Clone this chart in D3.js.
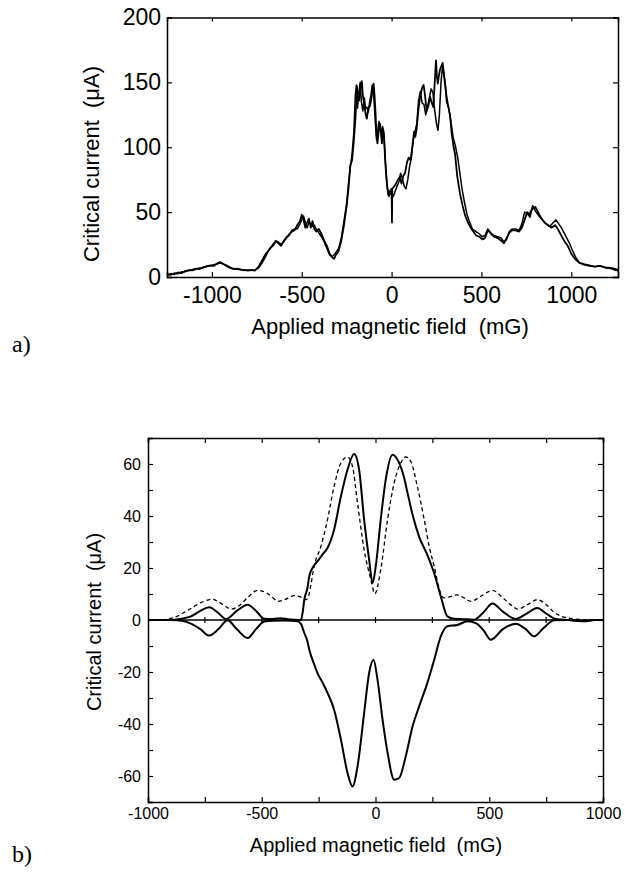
<!DOCTYPE html>
<html><head><meta charset="utf-8">
<script src="https://cdn.jsdelivr.net/npm/d3@7"></script>
<style>
html,body{margin:0;padding:0;background:#fff;}
svg text{font-family:"Liberation Sans",Arial,sans-serif;fill:#000;}
</style></head>
<body>
<svg id="chart" width="625" height="880"></svg>
<script>
// ---------- Panel a data ----------
const aField1 = [-1250,-1230,-1210,-1190,-1170,-1150,-1130,-1110,-1090,-1070,-1050,-1030,-1010,-990,-970,-955,-940,-920,-900,-880,-860,-840,-820,-800,-780,-760,-740,-720,-700,-680,-660,-645,-630,-615,-600,-585,-570,-555,-540,-525,-510,-500,-490,-480,-470,-460,-450,-440,-430,-420,-405,-390,-375,-360,-345,-330,-320,-310,-295,-280,-265,-250,-240,-230,-220,-210,-200,-193,-187,-180,-172,-166,-160,-152,-145,-138,-130,-120,-112,-105,-100,-95,-90,-84,-79,-72,-64,-58,-54,-48,-42,-36,-30,-25,-18,-10,0,2,4,15,25,35,45,55,65,75,85,95,105,115,125,132,140,150,160,170,178,186,195,205,214,222,232,240,247,252,257,263,270,278,284,290,297,305,316,325,334,345,353,365,381,395,410,425,440,455,470,490,505,520,530,540,555,570,590,610,625,640,655,670,690,710,725,740,755,765,780,800,815,830,850,870,890,910,925,940,960,980,1000,1020,1045,1070,1100,1130,1160,1190,1220,1250,1260];
const aCurrent1 = [1.5,2.5,2,3.5,3,4.5,5,5.5,6.5,6,7.5,8,9,8.5,10.5,11.5,10,9,7.5,6,6.5,5.5,5.5,5,5.5,5,8,13,18,21,25,28,26,24,28,30,33,35,36,40,43,48,44,38,42,45,38,43,37,35,37,33,28,24,18,15,14,17,20,28,40,55,68,86,90,105,125,147,140,136,148,151,140,133,126,122,130,132,138,146,149,140,128,110,103,112,118,110,103,114,108,90,78,70,63,66,68,42,68,70,72,75,77,72,78,80,88,92,90,100,112,108,115,130,140,146,148,140,128,132,139,135,131,150,167,155,149,155,160,163,165,158,149,140,131,125,111,100,95,78,64,55,47,42,38,35,32,31,29,30,34,36,33,31,30,28,26,30,34,36,36,35,38,44,50,48,52,54,50,46,42,40,38,40,37,33,28,24,18,14,11,9.5,8.5,8,8.5,7.5,7,6,4.5,5];
const aField2 = [-1250,-1230,-1210,-1190,-1170,-1150,-1130,-1110,-1090,-1070,-1050,-1030,-1010,-990,-970,-955,-940,-920,-900,-880,-860,-840,-820,-800,-780,-760,-740,-720,-700,-680,-660,-645,-630,-615,-600,-585,-570,-555,-540,-525,-510,-500,-490,-480,-470,-460,-450,-440,-430,-420,-405,-390,-375,-360,-345,-330,-320,-310,-295,-280,-265,-250,-240,-230,-220,-210,-202,-196,-190,-182,-175,-168,-160,-152,-145,-138,-130,-122,-115,-108,-102,-96,-90,-84,-78,-70,-62,-56,-50,-44,-38,-32,-26,-20,-14,-8,0,10,20,30,40,50,60,70,80,90,100,110,120,130,140,150,160,170,180,190,200,210,220,230,240,250,258,266,275,283,290,298,306,318,330,342,355,368,380,392,405,420,435,450,470,490,505,520,535,550,570,590,610,625,640,655,670,690,710,725,740,755,770,785,800,820,840,860,880,900,915,930,945,960,975,990,1005,1025,1045,1070,1100,1130,1160,1190,1220,1250,1260];
const aCurrent2 = [2,1.5,3,2.5,4,4,5.5,5,6,7,7,8.5,8.5,9.5,10,11,10.5,8.5,7,6.5,6,6,5,5.5,5,5.5,7,11,16,22,24,27,27,25,27,31,32,36,37,37,41,44,47,42,38,42,41,39,40,37,34,31,27,22,17,16,17,19,22,30,43,57,72,84,95,112,140,148,130,142,150,135,128,138,130,131,127,135,140,148,145,132,118,106,112,120,115,108,116,112,98,84,72,65,62,64,65,62,66,70,73,80,76,70,68,75,85,92,105,112,118,136,143,134,133,125,131,138,145,142,128,118,113,125,150,162,157,150,135,130,120,108,101,92,80,68,58,48,42,37,35,33,31,32,37,34,32,31,30,27,29,35,37,37,36,41,50,49,46,55,51,47,44,41,39,42,44,41,38,34,30,26,21,15,11,10,9,8,8.5,7,6.5,5,6];
const aXTicks = [-1000,-500,0,500,1000];
const aYTicks = [0,50,100,150,200];

// ---------- Panel b data ----------
const bFieldDash = [-1000,-950,-914,-870,-840,-810,-782,-750,-720,-690,-660,-635,-600,-560,-518,-480,-450,-430,-400,-357,-320,-306,-295,-285,-270,-240,-211,-182,-152,-123,-101,-79,-50,-20,-3,23,53,82,111,133,155,184,214,236,258,280,290,302,330,360,390,419,470,514,560,600,624,670,711,750,785,815,843,902,950,1000];
const bCurrentDash = [0,0,0.3,1.5,3,4.5,6,7.3,8,7,5.3,4.2,5.5,8.8,11.4,10.5,8.5,7.2,7.8,9.4,8.5,7.8,9,13,20.6,28.3,38.6,51.4,60.4,62.7,59,45,27,15.5,10.1,19.4,38.6,52.7,60.4,62.7,61,51.4,38.6,28.3,20.6,12,9.5,8.5,9,9.7,8.5,7.2,9.5,11.4,8.5,5.5,4.2,6,7.8,6,3,1.5,0.8,0.2,0,0];
const bFieldUpper = [-1000,-900,-855,-811,-770,-731,-695,-657,-610,-562,-525,-489,-450,-416,-385,-357,-328,-320,-313,-300,-291,-270,-255,-230,-211,-182,-152,-123,-94,-72,-50,-28,-13,1,23,45,75,104,125,141,163,192,228,258,287,316,345,375,433,475,514,560,617,665,711,750,792,850,917,960,1000];
const bCurrentUpper = [0,0,0.5,1.4,3.5,4.9,3,0.4,3.5,5.9,3.5,0.5,0.4,0.7,0.3,0.1,0,3,7.8,12,16.8,21,22.6,25.5,27.7,34.7,47.6,57.8,63.8,57.8,38.6,23.2,14.2,20.6,38.6,54,63.6,60.4,55,48.8,40.5,32,25,18,9.1,1.4,0.5,0.4,0.1,3,6.3,3.2,0.4,2.5,4.6,2.5,0.4,0,-0.4,0,0];
const bFieldLower = [-1000,-900,-850,-811,-770,-731,-690,-650,-610,-562,-525,-489,-450,-400,-343,-328,-313,-300,-291,-270,-255,-230,-211,-182,-152,-123,-101,-79,-50,-28,-9,9,31,53,82,104,133,163,192,228,258,287,316,360,404,441,475,507,560,617,660,697,740,785,850,917,960,1000];
const bCurrentLower = [0,0,-0.3,-1.4,-3.5,-6,-3.5,-0.1,-3.5,-6.9,-3.5,-0.6,-0.3,-0.2,-0.5,-1.5,-5,-8,-11.4,-17,-20.4,-24.5,-28,-34.5,-46,-58.8,-64,-56.3,-35.8,-20.4,-15.3,-23,-38.3,-51,-61.4,-60.8,-52.4,-40.9,-33.2,-24.2,-15.3,-6.3,-2.4,-1.9,-0.5,-1.2,-4,-7.6,-3.5,-1.4,-3.5,-6.3,-3,-0.1,0,-0.5,0,0];
const bXTicks = [-1000,-750,-500,-250,0,250,500,750,1000];
const bXLabels = [-1000,-500,0,500,1000];
const bYTicks = [-70,-60,-50,-40,-30,-20,-10,0,10,20,30,40,50,60,70];
const bYLabels = [-60,-40,-20,0,20,40,60];

const xTitle = "Applied magnetic field\u00A0 (mG)";
const yTitle = "Critical current\u00A0 (\u03BCA)";

const svg = d3.select("#chart");

function zip(xs, ys){ return xs.map((x,i)=>[x, ys[i]]); }

function styleAxis(g){
  g.selectAll(".domain").attr("stroke","#000").attr("stroke-width",1.5);
  g.selectAll(".tick line").attr("stroke","#000").attr("stroke-width",1.2);
}

// ---------- Panel a ----------
(function(){
  const L=167, R=618, T=17.5, B=277;
  const x = d3.scaleLinear().domain([-1250,1260]).range([L,R]);
  const y = d3.scaleLinear().domain([0,200]).range([B,T]);
  const g = svg.append("g");

  const line = d3.line().x(d=>x(d[0])).y(d=>y(d[1])).curve(d3.curveLinear);
  g.append("path").datum(zip(aField2,aCurrent2)).attr("d",line)
    .attr("fill","none").attr("stroke","#000").attr("stroke-width",1.5).attr("stroke-linejoin","round");
  g.append("path").datum(zip(aField1,aCurrent1)).attr("d",line)
    .attr("fill","none").attr("stroke","#000").attr("stroke-width",1.8).attr("stroke-linejoin","round");

  const fmt = d=>String(d);
  const gx = g.append("g").attr("transform",`translate(0,${B})`)
    .call(d3.axisBottom(x).tickValues(aXTicks).tickSize(-5).tickPadding(10).tickFormat(fmt));
  gx.selectAll("text").attr("font-size",23);
  styleAxis(gx);
  const gt = g.append("g").attr("transform",`translate(0,${T})`)
    .call(d3.axisTop(x).tickValues(aXTicks).tickSize(-4).tickFormat(""));
  styleAxis(gt);
  const gy = g.append("g").attr("transform",`translate(${L},0)`)
    .call(d3.axisLeft(y).tickValues(aYTicks).tickSize(-5).tickPadding(6).tickFormat(fmt));
  gy.selectAll("text").attr("font-size",23);
  styleAxis(gy);
  const gr = g.append("g").attr("transform",`translate(${R},0)`)
    .call(d3.axisRight(y).tickValues(aYTicks).tickSize(-5).tickFormat(""));
  styleAxis(gr);

  g.append("text").attr("x",390).attr("y",334).attr("text-anchor","middle")
    .attr("font-size",22).text(xTitle);
  g.append("text").attr("transform","translate(99,164) rotate(-90)").attr("text-anchor","middle")
    .attr("font-size",22).text(yTitle);
  svg.append("text").attr("x",12).attr("y",352)
    .style("font-family","'Liberation Serif',serif").attr("font-size",24).text("a)");
})();

// ---------- Panel b ----------
(function(){
  const L=148, R=603, T=438, B=802;
  const x = d3.scaleLinear().domain([-1000,1000]).range([L,R]);
  const y = d3.scaleLinear().domain([-70,70]).range([B,T]);
  const g = svg.append("g");

  // zero line with crossing ticks
  g.append("line").attr("x1",L).attr("x2",R).attr("y1",y(0)).attr("y2",y(0))
    .attr("stroke","#000").attr("stroke-width",1.3);
  g.selectAll(".zt").data(bXTicks.slice(1,-1)).enter().append("line")
    .attr("x1",d=>x(d)).attr("x2",d=>x(d)).attr("y1",y(0)-3).attr("y2",y(0)+3)
    .attr("stroke","#000").attr("stroke-width",1.2);

  const line = d3.line().x(d=>x(d[0])).y(d=>y(d[1])).curve(d3.curveMonotoneX);
  g.append("path").datum(zip(bFieldDash,bCurrentDash)).attr("d",line)
    .attr("fill","none").attr("stroke","#000").attr("stroke-width",1.3).attr("stroke-dasharray","4,3");
  g.append("path").datum(zip(bFieldUpper,bCurrentUpper)).attr("d",line)
    .attr("fill","none").attr("stroke","#000").attr("stroke-width",2);
  g.append("path").datum(zip(bFieldLower,bCurrentLower)).attr("d",line)
    .attr("fill","none").attr("stroke","#000").attr("stroke-width",2);

  const fx = d=> bXLabels.includes(d)? String(d) : "";
  const fy = d=> bYLabels.includes(d)? String(d) : "";
  const gx = g.append("g").attr("transform",`translate(0,${B})`)
    .call(d3.axisBottom(x).tickValues(bXTicks).tickSize(-5).tickPadding(6).tickFormat(fx));
  gx.selectAll("text").attr("font-size",16);
  styleAxis(gx);
  const gt = g.append("g").attr("transform",`translate(0,${T})`)
    .call(d3.axisTop(x).tickValues(bXTicks).tickSize(-5).tickFormat(""));
  styleAxis(gt);
  const gy = g.append("g").attr("transform",`translate(${L},0)`)
    .call(d3.axisLeft(y).tickValues(bYTicks).tickSize(-5).tickPadding(7).tickFormat(fy));
  gy.selectAll("text").attr("font-size",16);
  styleAxis(gy);
  const gr = g.append("g").attr("transform",`translate(${R},0)`)
    .call(d3.axisRight(y).tickValues(bYTicks).tickSize(-5).tickFormat(""));
  styleAxis(gr);

  g.append("text").attr("x",376).attr("y",852).attr("text-anchor","middle")
    .attr("font-size",20).text(xTitle);
  g.append("text").attr("transform","translate(101,622) rotate(-90)").attr("text-anchor","middle")
    .attr("font-size",20).text(yTitle);
  svg.append("text").attr("x",12).attr("y",862)
    .style("font-family","'Liberation Serif',serif").attr("font-size",24).text("b)");
})();
</script>
</body></html>
